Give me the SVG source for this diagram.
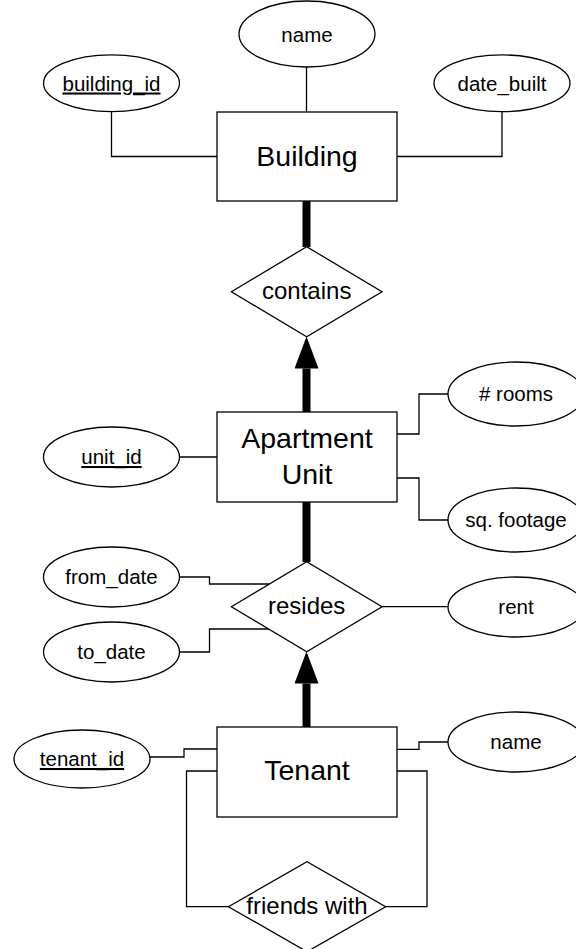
<svg xmlns="http://www.w3.org/2000/svg" width="576" height="949" viewBox="0 0 576 949">
<style>
  .shape { fill:#fff; stroke:#000; stroke-width:1.3; }
  .ln { fill:none; stroke:#000; stroke-width:1.3; }
  .thick { fill:none; stroke:#000; stroke-width:8; }
  text { font-family:"Liberation Sans", Arial, Helvetica, sans-serif; fill:#000; text-anchor:middle; }
  .attr { font-size:20.5px; }
  .rel { font-size:24px; }
  .ent { font-size:28.5px; }
  .key { text-decoration:underline; }
</style>
<defs>
  <marker id="arrow" markerUnits="userSpaceOnUse" markerWidth="32" markerHeight="24" viewBox="0 0 32 24" refX="0" refY="12" orient="auto">
    <path d="M0,0 L32,12 L0,24 Z" fill="#000"/>
  </marker>
</defs>
<rect width="576" height="949" fill="#fff"/>
<g id="connectors">
  <path class="ln" d="M306.5,67 V112"/>
  <path class="ln" d="M111.5,111.7 V156.5 H217"/>
  <path class="ln" d="M502,111.7 V156.5 H397"/>
  <path class="ln" d="M397,434 H419 V394 H448"/>
  <path class="ln" d="M397,478 H419 V520 H448"/>
  <path class="ln" d="M179.5,457 H217"/>
  <path class="ln" d="M179.5,577 H209.5 V584 H269.4"/>
  <path class="ln" d="M179.5,652 H209.5 V629 H268.9"/>
  <path class="ln" d="M382,606.7 H448"/>
  <path class="ln" d="M150,757 H184 V749 H217"/>
  <path class="ln" d="M397,749.3 H419 V742 H448"/>
  <path class="ln" d="M217,771 H186.5 V906.7 H228.4"/>
  <path class="ln" d="M397,771 H427 V906.7 H385.6"/>
  <path class="thick" d="M306.5,201 V247"/>
  <path class="thick" d="M306.5,412 V368.5" marker-end="url(#arrow)"/>
  <path class="thick" d="M306.5,502 V562"/>
  <path class="thick" d="M306.5,727 V683.5" marker-end="url(#arrow)"/>
</g>
<g id="building">
  <rect class="shape" x="217" y="112" width="180" height="89"/>
  <text class="ent" x="307" y="166">Building</text>
</g>
<g id="building_name">
  <ellipse class="shape" cx="307" cy="34" rx="68" ry="33"/>
  <text class="attr" x="307" y="41.5">name</text>
</g>
<g id="building_id">
  <ellipse class="shape" cx="111.5" cy="83.3" rx="68" ry="28.4"/>
  <text class="attr key" x="111.5" y="90.5">building_id</text>
</g>
<g id="date_built">
  <ellipse class="shape" cx="502" cy="83.3" rx="68" ry="28.4"/>
  <text class="attr" x="502" y="90.5">date_built</text>
</g>
<g id="contains">
  <polygon class="shape" points="231.4,291.7 306.7,246.7 382,291.7 306.7,336.7"/>
  <text class="rel" x="306.7" y="299">contains</text>
</g>
<g id="apartment_unit">
  <rect class="shape" x="217" y="412" width="180" height="90"/>
  <text class="ent" x="307" y="447.5">Apartment</text>
  <text class="ent" x="307" y="483.5">Unit</text>
</g>
<g id="unit_id">
  <ellipse class="shape" cx="111.5" cy="457" rx="68" ry="30"/>
  <text class="attr key" x="111.5" y="464">unit_id</text>
</g>
<g id="rooms">
  <ellipse class="shape" cx="516" cy="394" rx="68" ry="32"/>
  <text class="attr" x="516" y="401">#&#160;rooms</text>
</g>
<g id="sq_footage">
  <ellipse class="shape" cx="516" cy="520" rx="68" ry="32"/>
  <text class="attr" x="516" y="527">sq. footage</text>
</g>
<g id="resides">
  <polygon class="shape" points="231.4,606.7 306.7,561.7 382,606.7 306.7,651.7"/>
  <text class="rel" x="306.7" y="614">resides</text>
</g>
<g id="from_date">
  <ellipse class="shape" cx="111.5" cy="577" rx="68" ry="30"/>
  <text class="attr" x="111.5" y="584">from_date</text>
</g>
<g id="to_date">
  <ellipse class="shape" cx="111.5" cy="652" rx="68" ry="30"/>
  <text class="attr" x="111.5" y="659">to_date</text>
</g>
<g id="rent">
  <ellipse class="shape" cx="516" cy="607" rx="68" ry="30"/>
  <text class="attr" x="516" y="614">rent</text>
</g>
<g id="tenant">
  <rect class="shape" x="217" y="727" width="180" height="90"/>
  <text class="ent" x="307" y="779.5">Tenant</text>
</g>
<g id="tenant_id">
  <ellipse class="shape" cx="82" cy="759" rx="68" ry="29"/>
  <text class="attr key" x="82" y="766">tenant_id</text>
</g>
<g id="tenant_name">
  <ellipse class="shape" cx="516" cy="742" rx="68" ry="30"/>
  <text class="attr" x="516" y="749">name</text>
</g>
<g id="friends_with">
  <polygon class="shape" points="228.4,906.7 307,861.7 385.6,906.7 307,951.7"/>
  <text class="rel" x="307" y="914">friends with</text>
</g>
</svg>
